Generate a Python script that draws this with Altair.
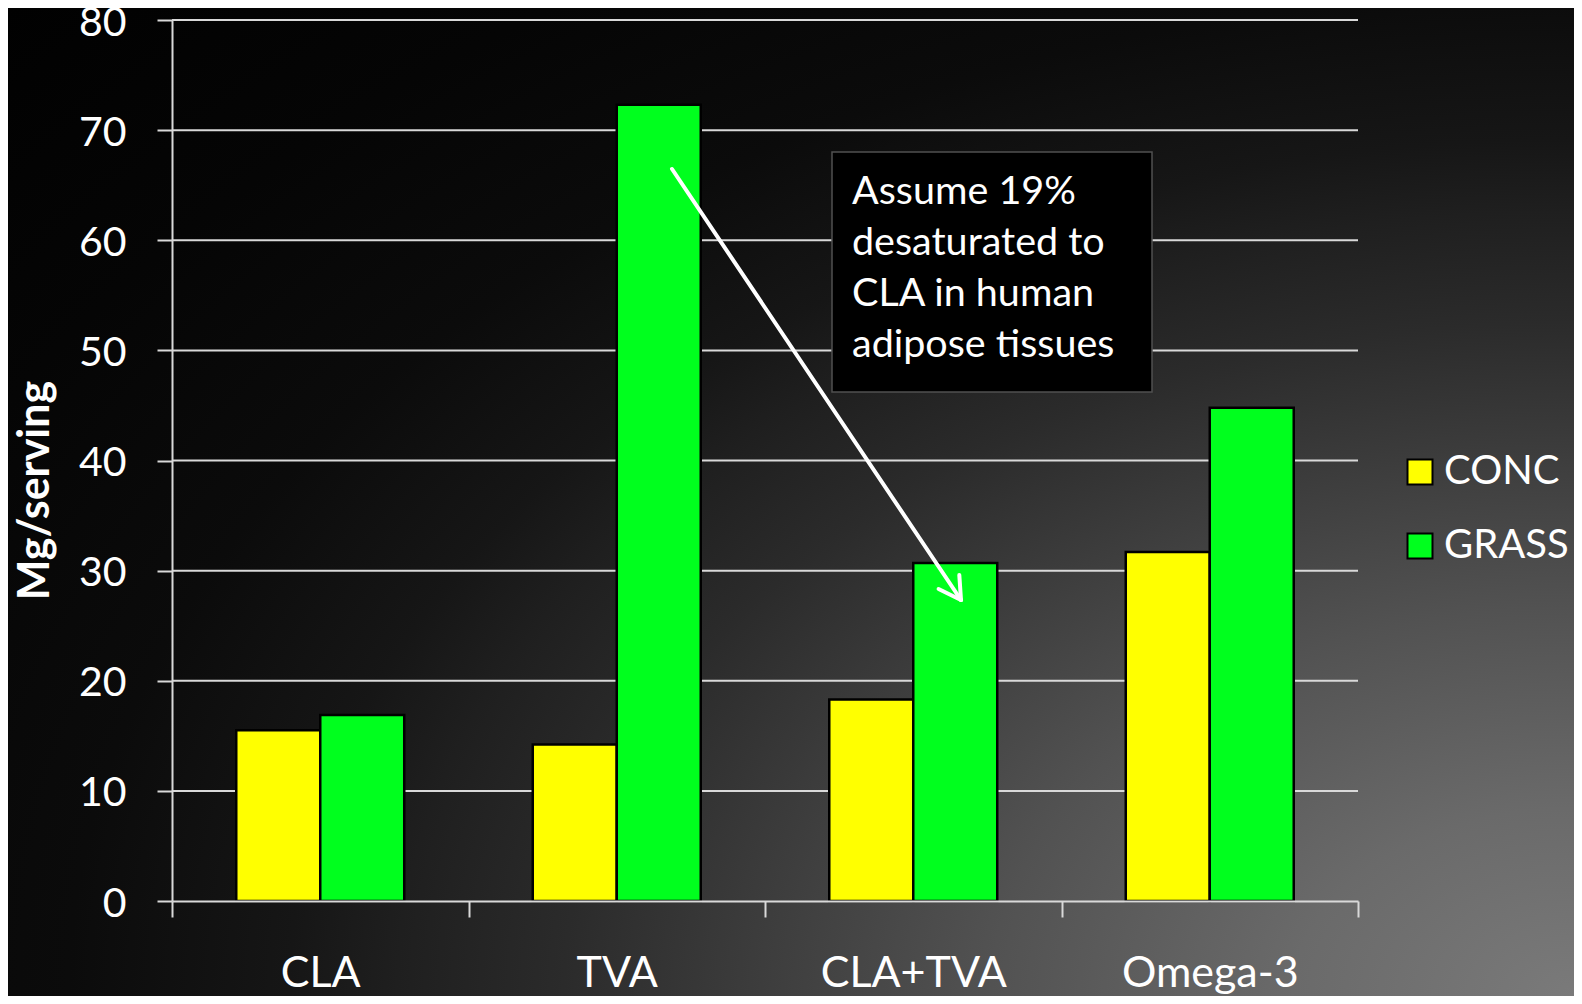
import altair as alt
import pandas as pd
from urllib.parse import quote

# ---- data ----
categories = ["CLA", "TVA", "CLA+TVA", "Omega-3"]
series = ["CONC", "GRASS"]
conc_values = [15.5, 14.2, 18.3, 31.7]
grass_values = [16.9, 72.3, 30.7, 44.8]
y_ticks = [0, 10, 20, 30, 40, 50, 60, 70, 80]
note_lines = ["Assume 19%", "desaturated to", "CLA in human", "adipose tissues"]

bars_df = pd.DataFrame(
    {
        "category": categories * 2,
        "series": [series[0]] * 4 + [series[1]] * 4,
        "value": conc_values + grass_values,
    }
)
grid_df = pd.DataFrame({"tick": y_ticks[1:]})

# ---- layout (pixels) ----
W, H = 1186, 881
PAD = {"left": 164, "top": 12, "right": 216, "bottom": 95}
CW = W + PAD["left"] + PAD["right"]
CH = H + PAD["top"] + PAD["bottom"]
FONT = "Lato"
LINE = "#d9d9d9"

# background: elliptical radial gradient, grey at bottom-right fading to black
bg_stops = [
    (0.000, "#7a7a7a"),
    (0.125, "#6a6a6a"),
    (0.259, "#525252"),
    (0.376, "#3a3a3a"),
    (0.449, "#2b2b2b"),
    (0.523, "#1f1f1f"),
    (0.571, "#161616"),
    (0.669, "#0b0b0b"),
    (0.800, "#050505"),
    (1.000, "#000000"),
]
cx, cy = CW, CH
stops_svg = "".join(f"<stop offset='{o}' stop-color='{c}'/>" for o, c in bg_stops)
bg_svg = (
    f"<svg xmlns='http://www.w3.org/2000/svg' width='{CW}' height='{CH}' viewBox='0 0 {CW} {CH}' preserveAspectRatio='none'>"
    f"<defs><radialGradient id='g' gradientUnits='userSpaceOnUse' cx='{cx}' cy='{cy}' r='1500' "
    f"gradientTransform='translate({cx} {cy}) scale(1.5 1) translate({-cx} {-cy})'>{stops_svg}</radialGradient></defs>"
    f"<rect x='0' y='0' width='{CW}' height='{CH}' fill='url(#g)'/></svg>"
)
bg_uri = "data:image/svg+xml;charset=utf-8," + quote(bg_svg)

fallback_gradient = {
    "gradient": "radial",
    "x1": 0.953, "y1": 0.882, "r1": 0,
    "x2": 0.953, "y2": 0.882, "r2": 1.15,
    "stops": [{"offset": o, "color": c} for o, c in bg_stops],
}

one = pd.DataFrame({"k": [0]})

background = alt.Chart(one).mark_rect(fill=fallback_gradient).encode(
    x=alt.value(-PAD["left"]),
    x2=alt.value(W + PAD["right"]),
    y=alt.value(-PAD["top"]),
    y2=alt.value(H + PAD["bottom"]),
)
background_img = alt.Chart(one).mark_image(
    width=CW, height=CH, aspect=False, align="left", baseline="top"
).encode(x=alt.value(-PAD["left"]), y=alt.value(-PAD["top"]), url=alt.value(bg_uri))

yscale = alt.Scale(domain=[0, 80], nice=False)

grid = alt.Chart(grid_df).mark_rule(color=LINE, strokeWidth=2).encode(
    y=alt.Y("tick:Q", scale=yscale),
    x=alt.value(0),
    x2=alt.value(W),
)

bars = alt.Chart(bars_df).mark_bar(stroke="black", strokeWidth=2.5).encode(
    x=alt.X(
        "category:N",
        sort=categories,
        scale=alt.Scale(paddingInner=0, paddingOuter=0),
        axis=alt.Axis(
            title=None,
            labelAngle=0,
            tickBand="extent",
            tickSize=16,
            tickWidth=2,
            tickColor=LINE,
            domainColor=LINE,
            domainWidth=2,
            labelFont=FONT,
            labelFontSize=43,
            labelColor="white",
            labelBaseline="alphabetic",
            labelPadding=69,
            labelLimit=400,
            grid=False,
            zindex=1,
        ),
    ),
    xOffset=alt.XOffset(
        "series:N", sort=series, scale=alt.Scale(paddingInner=0, paddingOuter=0.765)
    ),
    y=alt.Y(
        "value:Q",
        scale=yscale,
        axis=alt.Axis(
            values=y_ticks,
            grid=False,
            tickSize=15,
            tickWidth=2,
            tickColor=LINE,
            domainColor=LINE,
            domainWidth=2,
            labelFont=FONT,
            labelFontSize=41,
            labelColor="white",
            labelPadding=31,
            labelBaseline="middle",
            labelOffset=3,
            title="Mg/serving",
            titleFont=FONT,
            titleFontSize=43,
            titleFontWeight="bold",
            titleColor="white",
            titleAngle=-90,
            titleAlign="center",
            titleBaseline="alphabetic",
            titleX=-124,
            titleY=470,
            zindex=1,
        ),
    ),
    color=alt.Color(
        "series:N",
        sort=series,
        scale=alt.Scale(domain=series, range=["#FFFF00", "#00FF1E"]),
        legend=alt.Legend(
            title=None,
            orient="none",
            legendX=1228,
            legendY=432,
            padding=0,
            symbolType="square",
            symbolSize=625,
            symbolStrokeColor="black",
            symbolStrokeWidth=2,
            labelFont=FONT,
            labelFontSize=40,
            labelColor="white",
            labelOffset=4,
            rowPadding=34,
            zindex=1,
        ),
    ),
)

note_box = alt.Chart(one).mark_rect(fill="black", stroke="#505050", strokeWidth=1.5).encode(
    x=alt.value(660), x2=alt.value(980), y=alt.value(132), y2=alt.value(372)
)

note_text = alt.Chart(one).mark_text(
    align="left", baseline="alphabetic", font=FONT, fontSize=39.5, color="white", lineHeight=51
).encode(x=alt.value(680), y=alt.value(184), text=alt.value(note_lines))

arrow_df = pd.DataFrame(
    {
        "x": [500.0, 789.0, 789.0],
        "y": [149.0, 580.0, 580.0],
        "x2": [789.0, 787.3, 766.6],
        "y2": [580.0, 555.0, 569.0],
    }
)
arrow = alt.Chart(arrow_df).mark_rule(color="white", strokeWidth=4, strokeCap="round").encode(
    x=alt.X("x:Q", scale=None),
    y=alt.Y("y:Q", scale=None),
    x2="x2:Q",
    y2="y2:Q",
)

chart = (
    alt.layer(background, background_img, grid, bars, note_box, note_text, arrow)
    .properties(width=W, height=H, padding=PAD, autosize=alt.AutoSizeParams(type="none"), background="black")
    .configure_view(stroke=None)
)

chart.save("out.html", embed_options={"renderer": "svg", "actions": False})
